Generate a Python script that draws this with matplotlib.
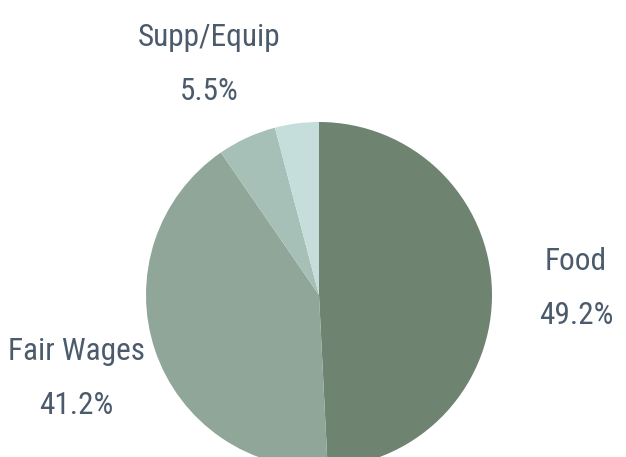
import matplotlib
matplotlib.use("Agg")
import matplotlib.pyplot as plt
import matplotlib.transforms as mtransforms

categories = ["Food", "Fair Wages", "Supp/Equip", "Other"]
values = [49.2, 41.2, 5.5, 4.1]
colors = ["#6e8370", "#8fa698", "#a6c0b8", "#c5dedb"]
text_color = "#4b5b6b"
fam = ["Roboto Condensed", "DejaVu Sans"]

W, H = 626, 457
fig = plt.figure(figsize=(W / 100, H / 100), dpi=100)
ax = fig.add_axes([0, 0, 1, 1])

cx, cy, r = 319, 295, 173
wedges, _ = ax.pie(values, colors=colors, startangle=90, counterclock=False,
                   center=(cx, -cy), radius=r, frame=True)
flip = mtransforms.Affine2D().scale(1, -1) + ax.transData
for w in wedges:
    w.set_transform(flip)
ax.set_xlim(0, W)
ax.set_ylim(H, 0)
ax.axis("off")

label_pos = {"Food": (576, 261, 316), "Fair Wages": (76, 351, 405), "Supp/Equip": (209, 37, 92)}
for cat, val in zip(categories, values):
    if cat in label_pos:
        x, y1, y2 = label_pos[cat]
        ax.text(x, y1, cat, ha="center", va="center", fontsize=22.5, color=text_color,
                family=fam)
        ax.text(x, y2, f"{val}%", ha="center", va="center", fontsize=22.5, color=text_color,
                family=fam)

fig.savefig("out.png", dpi=100)
